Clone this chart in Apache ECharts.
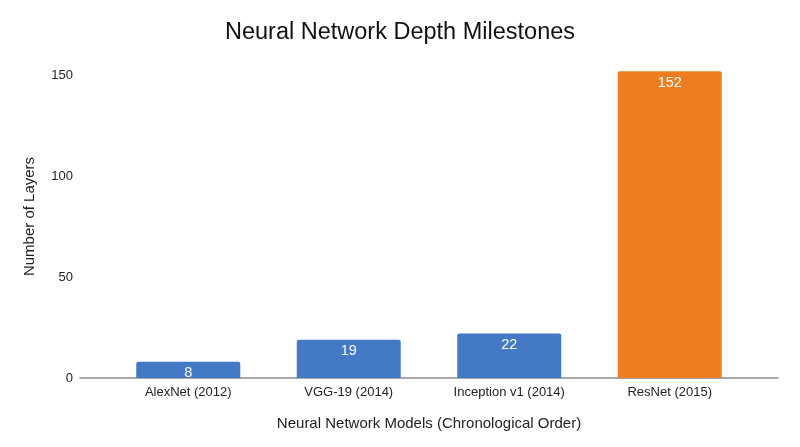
<!DOCTYPE html>
<html><head><meta charset="utf-8">
<script src="https://cdn.jsdelivr.net/npm/echarts@6/dist/echarts.min.js"></script>
<style>html,body{margin:0;padding:0;background:#fff}#c{width:800px;height:447px}</style>
</head><body><div id="c"></div>
<script>
const categories = ['AlexNet (2012)', 'VGG-19 (2014)', 'Inception v1 (2014)', 'ResNet (2015)'];
const layers = [8, 19, 22, 152];
const barColors = ['#4479C6', '#4479C6', '#4479C6', '#EE7D22'];
const yTicks = [0, 50, 100, 150];

const FONT = 'Liberation Sans, Arial, sans-serif';
const chart = echarts.init(document.getElementById('c'));
chart.setOption({
  animation: false,
  backgroundColor: '#fff',
  title: {
    text: 'Neural Network Depth Milestones',
    left: 'center', top: 16,
    textStyle: { fontFamily: FONT, fontSize: 23.5, fontWeight: 'normal', color: '#111' }
  },
  grid: [
    { left: 108, right: 50, top: 55, bottom: 69 },
    { left: 80, right: 22, top: 55, bottom: 69 }
  ],
  xAxis: [
    {
      type: 'category', gridIndex: 0, data: categories,
      axisLine: { show: false }, axisTick: { show: false },
      axisLabel: { fontFamily: FONT, fontSize: 13, color: '#222', margin: 8 },
      name: 'Neural Network Models (Chronological Order)',
      nameLocation: 'middle', nameGap: 38,
      nameTextStyle: { fontFamily: FONT, fontSize: 15, color: '#222' }
    },
    {
      type: 'category', gridIndex: 1, data: [''],
      axisLine: { show: true, lineStyle: { color: '#8a8a8a', width: 1.5 } },
      axisTick: { show: false }, axisLabel: { show: false }
    }
  ],
  yAxis: [
    {
      type: 'value', gridIndex: 0, min: 0, max: 160, interval: 50,
      axisLine: { show: false }, axisTick: { show: false }, splitLine: { show: false },
      axisLabel: {
        fontFamily: FONT, fontSize: 13, color: '#222', margin: 35, showMaxLabel: false,
        formatter: v => yTicks.indexOf(v) >= 0 ? String(v) : ''
      },
      name: 'Number of Layers', nameLocation: 'middle', nameGap: 71, nameRotate: 90,
      nameTextStyle: { fontFamily: FONT, fontSize: 15, color: '#222' }
    },
    { type: 'value', gridIndex: 1, min: 0, max: 160, show: false }
  ],
  series: [{
    type: 'bar', xAxisIndex: 0, yAxisIndex: 0,
    barWidth: 104,
    data: layers.map((v, i) => ({ value: v, itemStyle: { color: barColors[i], borderRadius: [2, 2, 0, 0] } })),
    label: {
      show: true, position: 'insideTop', distance: 4,
      fontFamily: FONT, fontSize: 14.5, color: '#fff'
    }
  }]
});
</script></body></html>
